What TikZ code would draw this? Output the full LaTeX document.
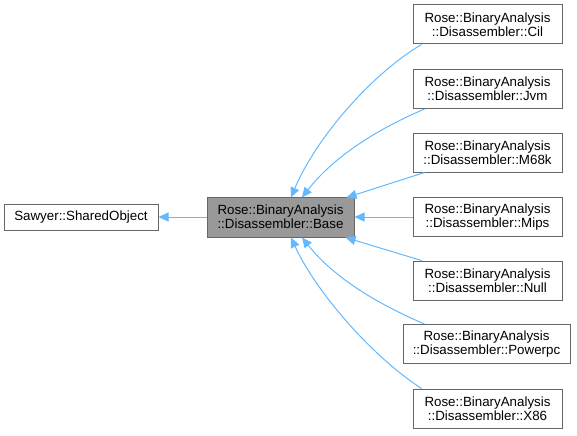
\documentclass[tikz,border=0pt]{standalone}
\usepackage{fontspec}
\setmainfont{Liberation Sans}
\usetikzlibrary{positioning,calc,arrows.meta}
\definecolor{edgeblue}{HTML}{63B8FF}
\definecolor{boxgray}{HTML}{666666}
\definecolor{basefill}{HTML}{999999}

\begin{document}
\begin{tikzpicture}[x=0.75pt,y=-0.75pt,
    cls/.style={draw=boxgray, fill=white, line width=0.75pt, align=center,
        inner sep=0pt, minimum width=111.75pt, minimum height=29.25pt,
        font=\fontsize{10}{10.5}\selectfont},
    inherit/.style={draw=edgeblue, line width=0.75pt,
        -{Triangle[length=7.5pt,width=6.75pt]}}]
    \useasboundingbox (0,0) rectangle (577,435);

    % Base classes
    \node[cls, minimum width=115.5pt, minimum height=19.5pt] (shared) at (81,217) {Sawyer::SharedObject};
    \node[cls, fill=basefill, minimum width=110.25pt, minimum height=30pt] (base) at (280.5,217) {Rose::BinaryAnalysis\\::Disassembler::Base};

    % Derived disassemblers
    \node[cls] (cil) at (487.5,24.5) {Rose::BinaryAnalysis\\::Disassembler::Cil};
    \node[cls] (jvm) at (487.5,89) {Rose::BinaryAnalysis\\::Disassembler::Jvm};
    \node[cls] (m68k) at (487.5,152.5) {Rose::BinaryAnalysis\\::Disassembler::M68k};
    \node[cls] (mips) at (487.5,217) {Rose::BinaryAnalysis\\::Disassembler::Mips};
    \node[cls] (null) at (487.5,280.5) {Rose::BinaryAnalysis\\::Disassembler::Null};
    \node[cls, minimum width=125.25pt] (powerpc) at (486.5,344) {Rose::BinaryAnalysis\\::Disassembler::Powerpc};
    \node[cls] (x86) at (487.5,408.5) {Rose::BinaryAnalysis\\::Disassembler::X86};

    % Inheritance edges
    \draw[inherit] (base.west) -- (shared.east);
    \draw[inherit] ($(cil.south west)+(9,0)$) .. controls (370,75) and (315,140) .. ($(base.north)+(10.5,1)$);
    \draw[inherit] ($(jvm.south west)+(12,0)$) .. controls (380,128) and (335,155) .. ($(base.north)+(21.5,1)$);
    \draw[inherit] ($(m68k.south west)+(12,0)$) -- ($(base.north east)+(-8,1)$);
    \draw[inherit] (mips.west) -- (base.east);
    \draw[inherit] ($(null.north west)+(9,0)$) -- ($(base.south east)+(-9,0)$);
    \draw[inherit] ($(powerpc.north west)+(22,0)$) .. controls (380,305) and (335,279) .. ($(base.south)+(21.5,0)$);
    \draw[inherit] ($(x86.north west)+(9,0)$) .. controls (370,355) and (315,290) .. ($(base.south)+(10.5,0)$);

\end{tikzpicture}
\end{document}
